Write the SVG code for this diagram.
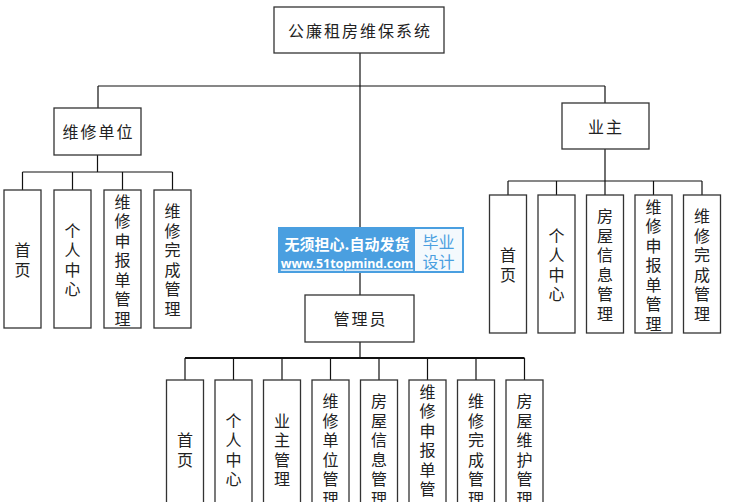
<svg xmlns="http://www.w3.org/2000/svg" width="743" height="502" viewBox="0 0 743 502">
<style>
.bx{fill:#fff;stroke:#333;stroke-width:1.3}
.ln{stroke:#111;stroke-width:1.2;fill:none}
.lb{font-family:"Noto Sans CJK SC","Noto Sans",sans-serif;font-size:16px;fill:#222;text-anchor:middle;dominant-baseline:central}
.h{letter-spacing:2px}
</style>
<rect width="743" height="502" fill="#fff"/>
<g id="connectors">
<path class="ln" d="M360 53V295"/>
<path class="ln" d="M98 86H605M98 86V108M605 86V103"/>
<path class="ln" d="M97.5 155V172M22.5 172H172.5M22.5 172V190M72.5 172V190M122.5 172V190M172.5 172V190"/>
<path class="ln" d="M605 149V181M508 181H702M508 181V195M556.5 181V195M605 181V195M653.5 181V195M702 181V195"/>
<path class="ln" d="M360 342V358M185 358V380M233.5 358V380M282 358V380M330.5 358V380M379 358V380M427.5 358V380M476 358V380M524.5 358V380"/>
<path class="ln" style="stroke-width:2" d="M185 358H524.5"/>
</g>
<g id="root"><rect class="bx" x="274" y="7" width="170" height="46"/><text class="lb h" x="360" y="30">公廉租房维保系统</text></g>
<g id="weixiudanwei"><rect class="bx" x="54" y="108" width="87" height="47"/><text class="lb h" x="98.5" y="131">维修单位</text></g>
<g id="yezhu"><rect class="bx" x="562" y="103" width="87" height="46"/><text class="lb h" x="606" y="126">业主</text></g>
<g id="guanliyuan"><rect class="bx" x="305" y="295" width="109" height="47"/><text class="lb h" x="360.5" y="318">管理员</text></g>

<g id="w1"><rect class="bx" x="4" y="190" width="37" height="138"/><text class="lb" x="22.5" y="249.25"><tspan x="22.5">首</tspan><tspan x="22.5" dy="19.5">页</tspan></text></g>
<g id="w2"><rect class="bx" x="54" y="190" width="37" height="138"/><text class="lb" x="72.5" y="229.75"><tspan x="72.5">个</tspan><tspan x="72.5" dy="19.5">人</tspan><tspan x="72.5" dy="19.5">中</tspan><tspan x="72.5" dy="19.5">心</tspan></text></g>
<g id="w3"><rect class="bx" x="104" y="190" width="37" height="138"/><text class="lb" x="122.5" y="200.5"><tspan x="122.5">维</tspan><tspan x="122.5" dy="19.5">修</tspan><tspan x="122.5" dy="19.5">申</tspan><tspan x="122.5" dy="19.5">报</tspan><tspan x="122.5" dy="19.5">单</tspan><tspan x="122.5" dy="19.5">管</tspan><tspan x="122.5" dy="19.5">理</tspan></text></g>
<g id="w4"><rect class="bx" x="154" y="190" width="37" height="138"/><text class="lb" x="172.5" y="210.25"><tspan x="172.5">维</tspan><tspan x="172.5" dy="19.5">修</tspan><tspan x="172.5" dy="19.5">完</tspan><tspan x="172.5" dy="19.5">成</tspan><tspan x="172.5" dy="19.5">管</tspan><tspan x="172.5" dy="19.5">理</tspan></text></g>

<g id="y1"><rect class="bx" x="489.5" y="195" width="37" height="138"/><text class="lb" x="508" y="254.25"><tspan x="508">首</tspan><tspan x="508" dy="19.5">页</tspan></text></g>
<g id="y2"><rect class="bx" x="538" y="195" width="37" height="138"/><text class="lb" x="556.5" y="234.75"><tspan x="556.5">个</tspan><tspan x="556.5" dy="19.5">人</tspan><tspan x="556.5" dy="19.5">中</tspan><tspan x="556.5" dy="19.5">心</tspan></text></g>
<g id="y3"><rect class="bx" x="586.5" y="195" width="37" height="138"/><text class="lb" x="605" y="215.25"><tspan x="605">房</tspan><tspan x="605" dy="19.5">屋</tspan><tspan x="605" dy="19.5">信</tspan><tspan x="605" dy="19.5">息</tspan><tspan x="605" dy="19.5">管</tspan><tspan x="605" dy="19.5">理</tspan></text></g>
<g id="y4"><rect class="bx" x="635" y="195" width="37" height="138"/><text class="lb" x="653.5" y="205.5"><tspan x="653.5">维</tspan><tspan x="653.5" dy="19.5">修</tspan><tspan x="653.5" dy="19.5">申</tspan><tspan x="653.5" dy="19.5">报</tspan><tspan x="653.5" dy="19.5">单</tspan><tspan x="653.5" dy="19.5">管</tspan><tspan x="653.5" dy="19.5">理</tspan></text></g>
<g id="y5"><rect class="bx" x="683.5" y="195" width="37" height="138"/><text class="lb" x="702" y="215.25"><tspan x="702">维</tspan><tspan x="702" dy="19.5">修</tspan><tspan x="702" dy="19.5">完</tspan><tspan x="702" dy="19.5">成</tspan><tspan x="702" dy="19.5">管</tspan><tspan x="702" dy="19.5">理</tspan></text></g>

<g id="g1"><rect class="bx" x="166.5" y="380" width="37" height="138"/><text class="lb" x="185" y="439.25"><tspan x="185">首</tspan><tspan x="185" dy="19.5">页</tspan></text></g>
<g id="g2"><rect class="bx" x="215" y="380" width="37" height="138"/><text class="lb" x="233.5" y="419.75"><tspan x="233.5">个</tspan><tspan x="233.5" dy="19.5">人</tspan><tspan x="233.5" dy="19.5">中</tspan><tspan x="233.5" dy="19.5">心</tspan></text></g>
<g id="g3"><rect class="bx" x="263.5" y="380" width="37" height="138"/><text class="lb" x="282" y="419.75"><tspan x="282">业</tspan><tspan x="282" dy="19.5">主</tspan><tspan x="282" dy="19.5">管</tspan><tspan x="282" dy="19.5">理</tspan></text></g>
<g id="g4"><rect class="bx" x="312" y="380" width="37" height="138"/><text class="lb" x="330.5" y="400.25"><tspan x="330.5">维</tspan><tspan x="330.5" dy="19.5">修</tspan><tspan x="330.5" dy="19.5">单</tspan><tspan x="330.5" dy="19.5">位</tspan><tspan x="330.5" dy="19.5">管</tspan><tspan x="330.5" dy="19.5">理</tspan></text></g>
<g id="g5"><rect class="bx" x="360.5" y="380" width="37" height="138"/><text class="lb" x="379" y="400.25"><tspan x="379">房</tspan><tspan x="379" dy="19.5">屋</tspan><tspan x="379" dy="19.5">信</tspan><tspan x="379" dy="19.5">息</tspan><tspan x="379" dy="19.5">管</tspan><tspan x="379" dy="19.5">理</tspan></text></g>
<g id="g6"><rect class="bx" x="409" y="380" width="37" height="138"/><text class="lb" x="427.5" y="390.5"><tspan x="427.5">维</tspan><tspan x="427.5" dy="19.5">修</tspan><tspan x="427.5" dy="19.5">申</tspan><tspan x="427.5" dy="19.5">报</tspan><tspan x="427.5" dy="19.5">单</tspan><tspan x="427.5" dy="19.5">管</tspan><tspan x="427.5" dy="19.5">理</tspan></text></g>
<g id="g7"><rect class="bx" x="457.5" y="380" width="37" height="138"/><text class="lb" x="476" y="400.25"><tspan x="476">维</tspan><tspan x="476" dy="19.5">修</tspan><tspan x="476" dy="19.5">完</tspan><tspan x="476" dy="19.5">成</tspan><tspan x="476" dy="19.5">管</tspan><tspan x="476" dy="19.5">理</tspan></text></g>
<g id="g8"><rect class="bx" x="506" y="380" width="37" height="138"/><text class="lb" x="524.5" y="400.25"><tspan x="524.5">房</tspan><tspan x="524.5" dy="19.5">屋</tspan><tspan x="524.5" dy="19.5">维</tspan><tspan x="524.5" dy="19.5">护</tspan><tspan x="524.5" dy="19.5">管</tspan><tspan x="524.5" dy="19.5">理</tspan></text></g>

<g id="watermark">
<rect x="278" y="227" width="186" height="46" fill="#4a9fe0"/>
<rect x="415" y="229" width="47" height="42" fill="#f4f9fd"/>
<text x="347" y="243" font-family="Noto Sans CJK SC,sans-serif" font-size="15" font-weight="bold" fill="#fff" text-anchor="middle" dominant-baseline="central">无须担心.自动发货</text>
<text x="347" y="263" font-family="Noto Sans,sans-serif" font-size="12.5" font-weight="bold" fill="#fff" text-anchor="middle" dominant-baseline="central" text-decoration="underline">www.51topmind.com</text>
<text x="438.5" y="241" font-family="Noto Sans CJK SC,sans-serif" font-size="16" fill="#4a9fe0" text-anchor="middle" dominant-baseline="central">毕业</text>
<text x="438.5" y="261" font-family="Noto Sans CJK SC,sans-serif" font-size="16" fill="#4a9fe0" text-anchor="middle" dominant-baseline="central">设计</text>
</g>
</svg>
